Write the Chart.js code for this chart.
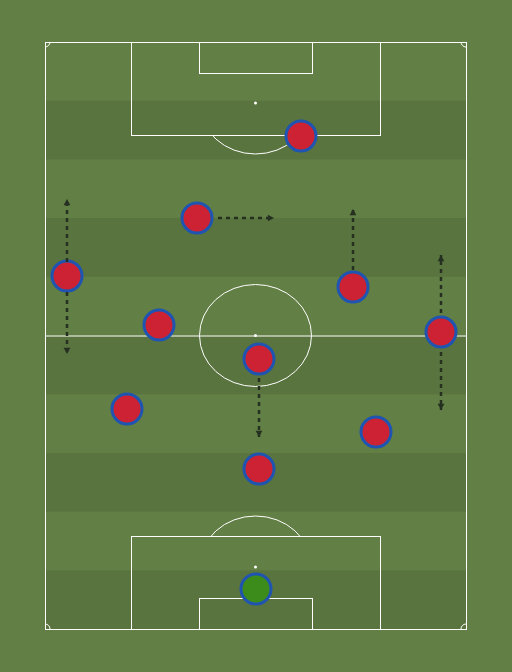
<!DOCTYPE html><html><head><meta charset="utf-8">
<script src="https://cdn.jsdelivr.net/npm/chart.js@4"></script>
<style>html,body{margin:0;padding:0;background:#627f45}#w{width:512px;height:672px}</style></head>
<body><div id="w"><canvas id="c"></canvas></div><script>
// Pitch units: x 0..421 (left->right), y 0..587 (top->bottom)
const playersX=[256,152,22,308,114,396,214,82,331,214];
const playersY=[94,176,234,245,283,290,317,367,390,427];
const keeperX=[211];
const keeperY=[547];
const arrowsFromX=[22,22,173,308,396,396,214];
const arrowsFromY=[220,250,176,228,271,310,336];
const arrowsToX=[22,22,229,308,396,396,214];
const arrowsToY=[157,312,176,167,213,368,395];
const stripeCount=10;

const arrowDatasets=arrowsFromX.map((x,i)=>({type:'line',data:[{x:x,y:arrowsFromY[i]},{x:arrowsToX[i],y:arrowsToY[i]}],
 borderColor:'#253020',borderWidth:2.5,borderDash:[4,4],pointRadius:0,showLine:true,arrow:true}));

const pitch={id:'pitch',beforeDatasetsDraw(ch){
 const c=ch.ctx,X=ch.scales.x,Y=ch.scales.y;
 const px=v=>X.getPixelForValue(v),py=v=>Y.getPixelForValue(v);
 const sx=px(1)-px(0),sy=py(1)-py(0);
 c.save();
 for(let i=0;i<stripeCount;i++){if(i%2){c.fillStyle='#5a743f';c.fillRect(px(0),py(587*i/stripeCount),px(421)-px(0),py(587*(i+1)/stripeCount)-py(587*i/stripeCount));}}
 c.strokeStyle='#ffffff';c.lineWidth=1;
 const rect=(x1,y1,x2,y2)=>c.strokeRect(px(x1)+.5,py(y1)+.5,px(x2)-px(x1),py(y2)-py(y1));
 rect(0,0,421,587);
 c.beginPath();c.moveTo(px(0),py(293.5)+.5);c.lineTo(px(421),py(293.5)+.5);c.stroke();
 c.beginPath();c.ellipse(px(210.5),py(293.5),56*sx,51*sy,0,0,Math.PI*2);c.stroke();
 rect(86,0,335,93);rect(154,0,267,31);
 rect(86,494,335,587);rect(154,556,267,587);
 // arcs
 c.save();c.beginPath();c.rect(0,py(93)+1,512,100);c.clip();
 c.beginPath();c.ellipse(px(210.5),py(61),56*sx,51*sy,0,0,Math.PI*2);c.stroke();c.restore();
 c.save();c.beginPath();c.rect(0,py(494)-100,512,100);c.clip();
 c.beginPath();c.ellipse(px(210.5),py(525),56*sx,51*sy,0,0,Math.PI*2);c.stroke();c.restore();
 c.fillStyle='#fff';
 [[210.5,61],[210.5,293.5],[210.5,525]].forEach(p=>{c.beginPath();c.arc(px(p[0]),py(p[1]),1.5,0,Math.PI*2);c.fill();});
 [[0,0,0,.5],[421,0,.5,1],[0,587,1.5,2],[421,587,1,1.5]].forEach(p=>{c.beginPath();c.arc(px(p[0]),py(p[1]),5,p[2]*Math.PI,p[3]*Math.PI);c.stroke();});
 c.restore();
},afterDatasetsDraw(ch){
 const c=ch.ctx,X=ch.scales.x,Y=ch.scales.y;
 ch.data.datasets.forEach(ds=>{if(!ds.arrow)return;
  const a=ds.data[0],b=ds.data[1];
  const x1=X.getPixelForValue(a.x),y1=Y.getPixelForValue(a.y),x2=X.getPixelForValue(b.x),y2=Y.getPixelForValue(b.y);
  const ang=Math.atan2(y2-y1,x2-x1);
  c.save();c.fillStyle='#253020';c.beginPath();c.moveTo(x2,y2);
  c.lineTo(x2-7*Math.cos(ang-0.5),y2-7*Math.sin(ang-0.5));
  c.lineTo(x2-7*Math.cos(ang+0.5),y2-7*Math.sin(ang+0.5));c.closePath();c.fill();c.restore();});
}};

new Chart(document.getElementById('c'),{type:'scatter',
 data:{datasets:[...arrowDatasets,
  {data:playersX.map((x,i)=>({x,y:playersY[i]})),backgroundColor:'#cc2233',borderColor:'#1f55b0',borderWidth:3,pointRadius:15,pointHoverRadius:15},
  {data:keeperX.map((x,i)=>({x,y:keeperY[i]})),backgroundColor:'#3b8c1a',borderColor:'#1f55b0',borderWidth:3,pointRadius:15,pointHoverRadius:15}]},
 options:{responsive:true,maintainAspectRatio:false,animation:false,events:[],
  layout:{padding:{left:45,right:46,top:42,bottom:43}},
  plugins:{legend:{display:false},tooltip:{enabled:false}},
  scales:{x:{type:'linear',min:0,max:421,display:false},y:{type:'linear',min:0,max:587,reverse:true,display:false}}},
 plugins:[pitch]});
</script></body></html>
